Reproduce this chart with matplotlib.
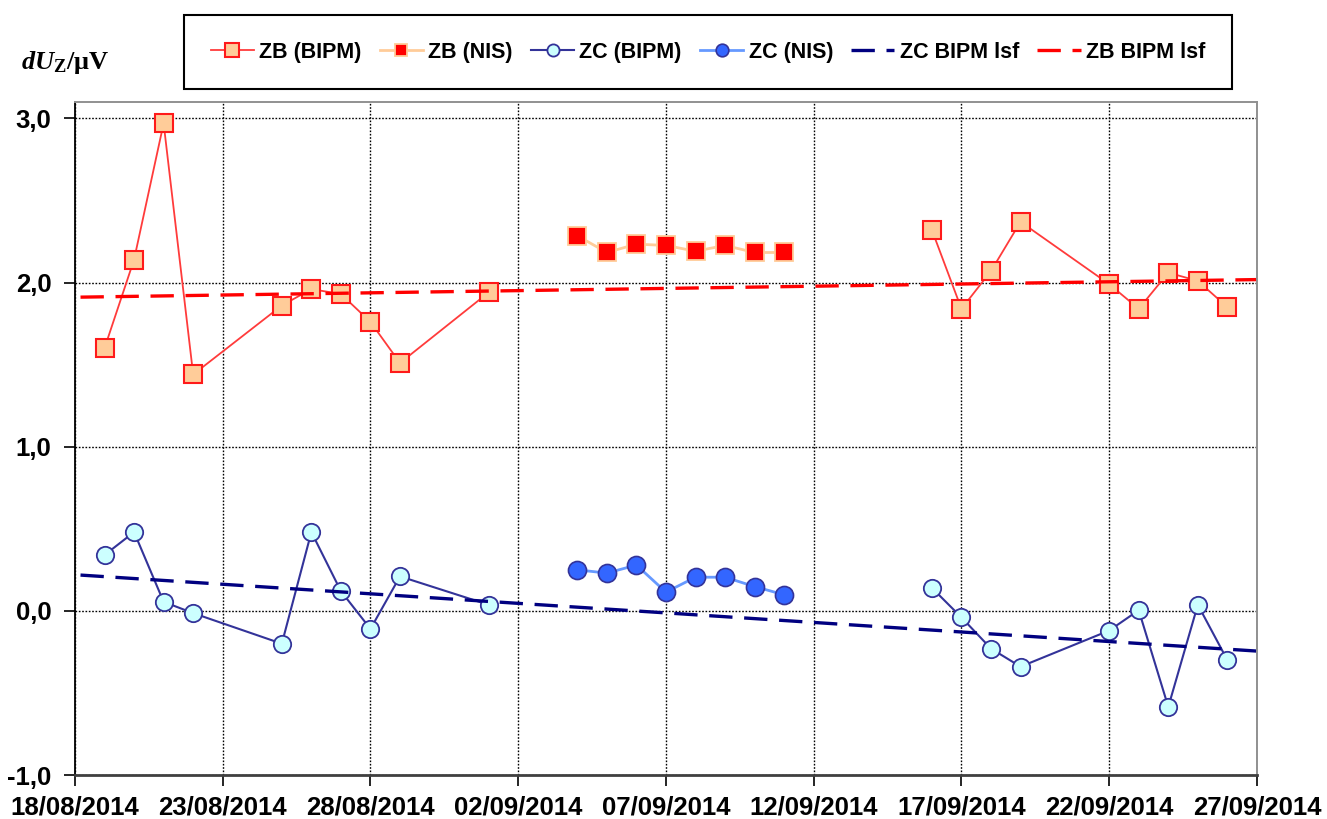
import numpy as np
import pandas as pd
import matplotlib
matplotlib.use("Agg")
import matplotlib.pyplot as plt
import matplotlib.dates as mdates
from matplotlib.ticker import FuncFormatter

plt.rcParams["font.family"] = ["Liberation Sans", "DejaVu Sans"]
plt.rcParams["font.weight"] = "bold"
plt.rcParams["mathtext.fontset"] = "custom"
plt.rcParams["mathtext.rm"] = "Liberation Serif:bold"
plt.rcParams["mathtext.it"] = "Liberation Serif:bold:italic"

# BIPM measurement days (two campaigns, before and after the NIS stay)
bipm_dates_1 = pd.to_datetime(["2014-08-19", "2014-08-20", "2014-08-21", "2014-08-22",
                               "2014-08-25", "2014-08-26", "2014-08-27", "2014-08-28",
                               "2014-08-29", "2014-09-01"])
bipm_dates_2 = pd.to_datetime(["2014-09-16", "2014-09-17", "2014-09-18", "2014-09-19",
                               "2014-09-22", "2014-09-23", "2014-09-24", "2014-09-25",
                               "2014-09-26"])
nis_dates = pd.to_datetime(["2014-09-04", "2014-09-05", "2014-09-06", "2014-09-07",
                            "2014-09-08", "2014-09-09", "2014-09-10", "2014-09-11"])

zb_bipm_1 = [1.60, 2.14, 2.97, 1.44, 1.86, 1.96, 1.93, 1.76, 1.51, 1.94]
zb_bipm_2 = [2.32, 1.84, 2.07, 2.37, 1.99, 1.84, 2.06, 2.01, 1.85]
zc_bipm_1 = [0.34, 0.48, 0.055, -0.014, -0.20, 0.48, 0.12, -0.11, 0.21, 0.037]
zc_bipm_2 = [0.14, -0.04, -0.23, -0.34, -0.12, 0.004, -0.585, 0.037, -0.30]

zb_nis = [2.285, 2.183, 2.234, 2.226, 2.191, 2.226, 2.183, 2.183]
zc_nis = [0.25, 0.23, 0.279, 0.114, 0.205, 0.205, 0.148, 0.098]

# least-squares fit lines of the BIPM data (end points)
lsf_dates = pd.to_datetime(["2014-08-18 04:30", "2014-09-27 00:00"])
zb_lsf = [1.911, 2.018]
zc_lsf = [0.218, -0.245]

tick_dates = pd.date_range("2014-08-18", "2014-09-27", freq="5D")
y_ticks = [-1.0, 0.0, 1.0, 2.0, 3.0]

fig = plt.figure(figsize=(13.27, 8.19), dpi=100)
ax = fig.add_axes([0.0565, 0.0537, 0.8907, 0.8218])

zb_bipm_style = dict(color="#ff3b3b", lw=1.3, marker="s", ms=13.5,
                     mfc="#ffcc99", mec="#ff1a1a", mew=1.5)
zc_bipm_style = dict(color="#333399", lw=1.5, marker="o", ms=12.5,
                     mfc="#ccffff", mec="#333399", mew=1.3)

ax.plot(bipm_dates_1, zb_bipm_1, label="ZB (BIPM)", **zb_bipm_style)
ax.plot(bipm_dates_2, zb_bipm_2, **zb_bipm_style)
ax.plot(nis_dates, zb_nis, color="#ffcc99", lw=2.0, marker="s", ms=13,
        mfc="#ff0000", mec="#ffcc99", mew=1.3, label="ZB (NIS)")
ax.plot(bipm_dates_1, zc_bipm_1, label="ZC (BIPM)", **zc_bipm_style)
ax.plot(bipm_dates_2, zc_bipm_2, **zc_bipm_style)
ax.plot(nis_dates, zc_nis, color="#6699ff", lw=2.0, marker="o", ms=13,
        mfc="#3366ff", mec="#333399", mew=1.2, label="ZC (NIS)")
ax.plot(lsf_dates, zc_lsf, color="#000080", lw=2.4, dashes=(7, 3.5),
        label="ZC BIPM lsf")
ax.plot(lsf_dates, zb_lsf, color="#ff0000", lw=2.4, dashes=(7, 3.5),
        label="ZB BIPM lsf")

ax.set_xlim(tick_dates[0], tick_dates[-1])
ax.set_ylim(-1.0, 3.1)
ax.set_xticks(tick_dates)
ax.xaxis.set_major_formatter(mdates.DateFormatter("%d/%m/%Y"))
ax.set_yticks(y_ticks)
ax.yaxis.set_major_formatter(FuncFormatter(lambda v, _: f"{v:.1f}".replace(".", ",")))
ax.tick_params(axis="both", direction="out", length=8, width=1.2, labelsize=18.5)
ax.tick_params(axis="x", pad=7)
ax.tick_params(axis="y", pad=9)

ax.grid(True, color="black", linestyle=(0, (1.2, 1.2)), linewidth=1.0)
ax.set_axisbelow(True)

for side in ("top", "right"):
    ax.spines[side].set_color("#909090")
    ax.spines[side].set_linewidth(1.4)
ax.spines["left"].set_color("black")
ax.spines["left"].set_linewidth(1.3)
ax.spines["bottom"].set_color("#404040")
ax.spines["bottom"].set_linewidth(2.0)

fig.text(0.016, 0.924, r"$dU_{\mathrm{Z}}/\mathrm{\mu V}$", fontsize=19,
         ha="left", va="center")

leg = fig.legend(loc="center", bbox_to_anchor=(0.5335, 0.9365), ncol=6,
                 fontsize=15.5, frameon=True, fancybox=False, framealpha=1,
                 edgecolor="black", handlelength=2.0, handletextpad=0.25,
                 columnspacing=0.85, borderpad=1.25, markerscale=0.7)
leg.get_frame().set_linewidth(1.5)

fig.savefig("out.png", dpi=100)
